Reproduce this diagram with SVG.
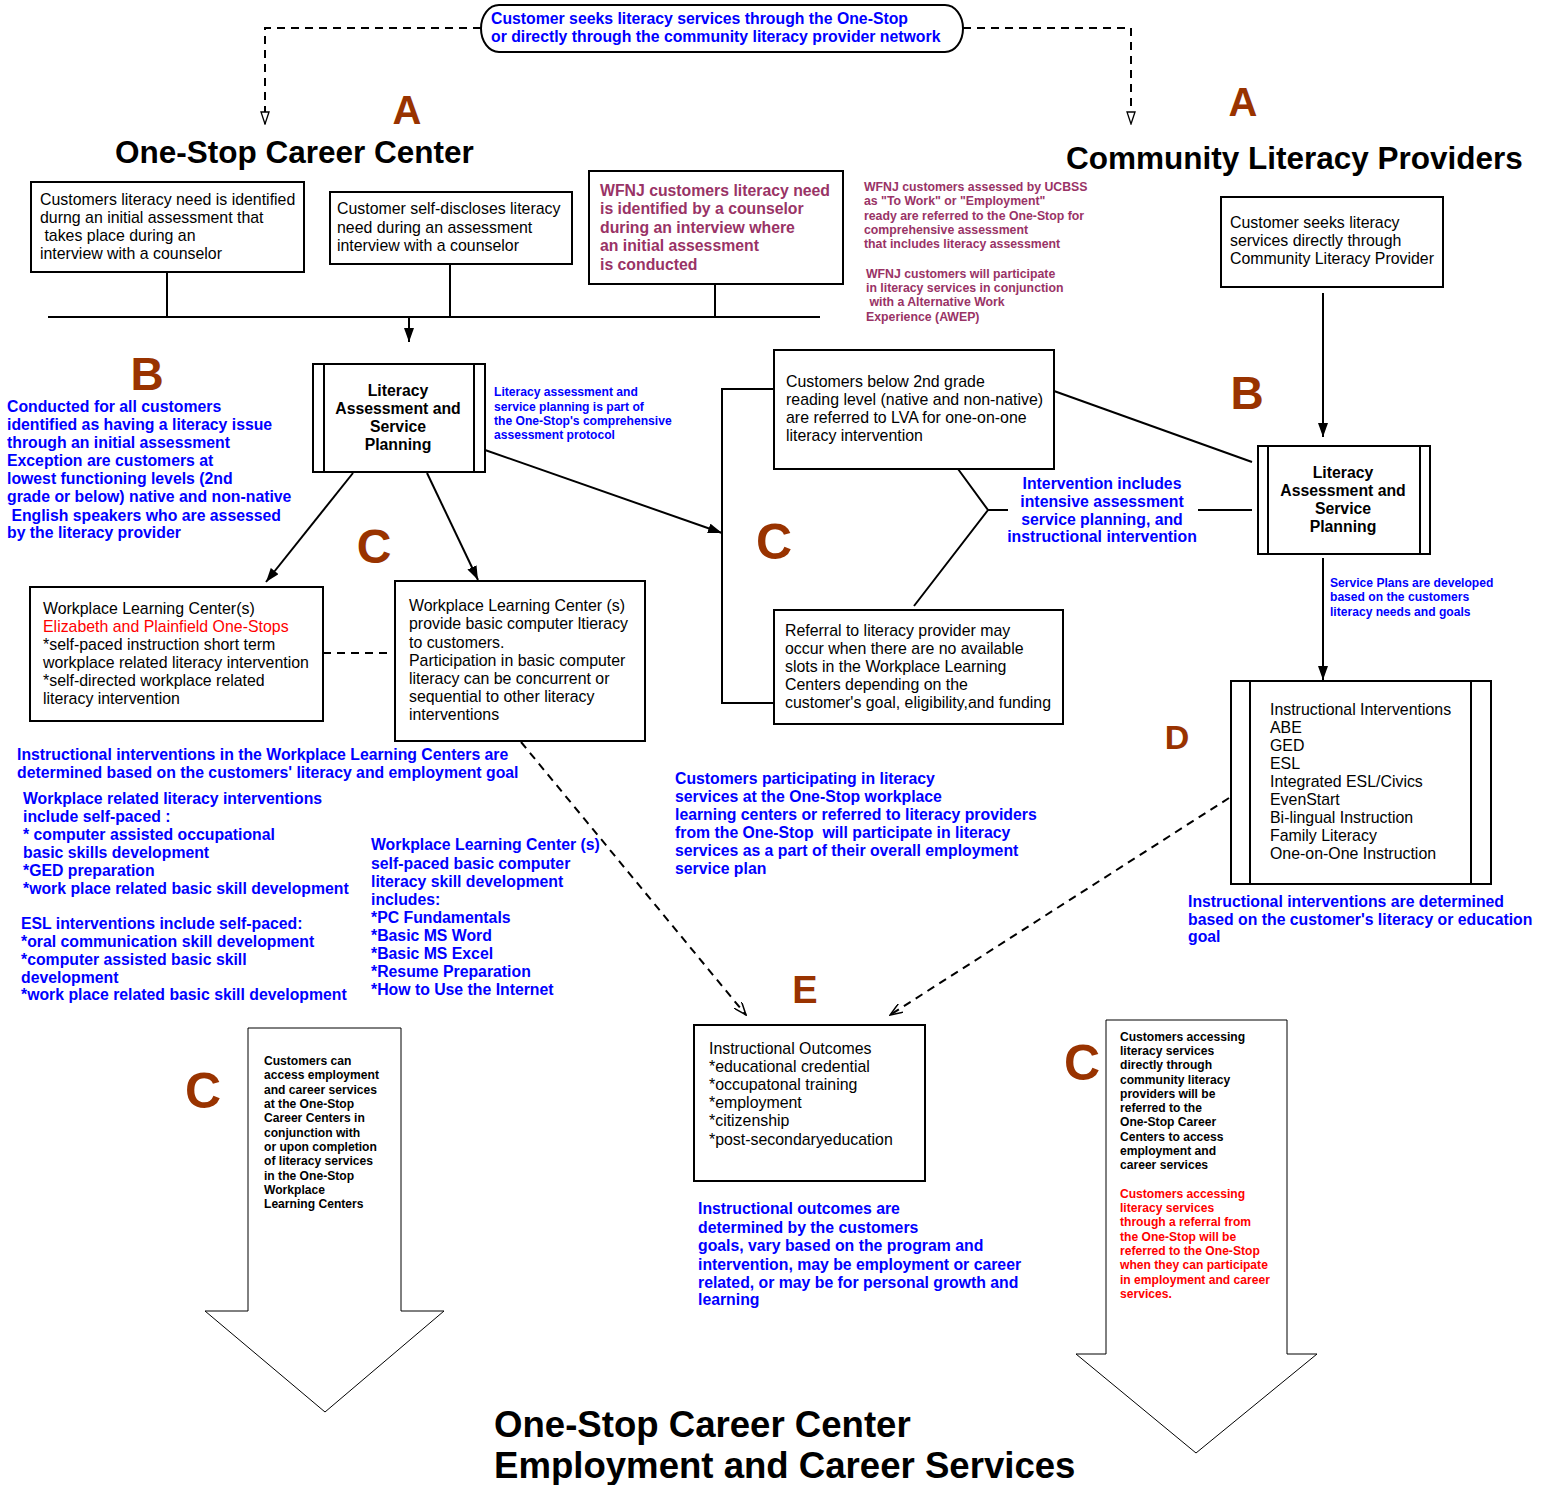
<svg xmlns="http://www.w3.org/2000/svg" width="1550" height="1485" viewBox="0 0 1550 1485">
  <style>
    text { font-family: "Liberation Sans", Arial, Helvetica, sans-serif; white-space: pre; }
    .box { fill: #fff; stroke: #000; stroke-width: 2; }
    .ln { fill: none; stroke: #000; stroke-width: 2; }
    .dash { fill: none; stroke: #000; stroke-width: 2; stroke-dasharray: 8 6; }
    .big { fill: #fff; stroke: #000; stroke-width: 1; }
    .t { font-size: 15.9px; fill: #000; }
    .tb { font-size: 15.8px; font-weight: bold; fill: #000; }
    .bl { font-size: 15.8px; font-weight: bold; fill: #0000ff; }
    .sbl { font-size: 12.1px; font-weight: bold; fill: #0000ff; }
    .pu { font-size: 15.8px; font-weight: bold; fill: #993366; }
    .spu { font-size: 12.3px; font-weight: bold; fill: #993366; }
    .sk { font-size: 12.1px; font-weight: bold; fill: #000; }
    .sr { font-size: 12.1px; font-weight: bold; fill: #ff0000; }
    .red { fill: #ff0000; }
    .h1 { font-size: 31.5px; font-weight: bold; fill: #000; }
    .h2 { font-size: 36.6px; font-weight: bold; fill: #000; }
    .ltr { font-weight: bold; fill: #993300; }
  </style>
  <defs>
    <marker id="ah" viewBox="0 0 14 10" refX="14" refY="5" markerWidth="14" markerHeight="10" orient="auto" markerUnits="userSpaceOnUse">
      <path d="M0,0 L14,5 L0,10 z" fill="#000"/>
    </marker>
    <marker id="oh" viewBox="0 0 14 10" refX="13" refY="5" markerWidth="14" markerHeight="10" orient="auto" markerUnits="userSpaceOnUse">
      <path d="M1,1 L13,5 L1,9 z" fill="#fff" stroke="#000" stroke-width="1.3"/>
    </marker>
    <marker id="vh" viewBox="0 0 14 10" refX="13" refY="5" markerWidth="14" markerHeight="10" orient="auto" markerUnits="userSpaceOnUse">
      <path d="M0,0 L13,5 L0,10" fill="none" stroke="#000" stroke-width="1.5"/>
    </marker>
  </defs>

  <!-- connectors -->
  <g id="connectors">
    <path class="dash" d="M481,28 H265 V124" marker-end="url(#oh)"/>
    <path class="dash" d="M963,28 H1131 V124" marker-end="url(#oh)"/>
    <path class="ln" d="M167,272 V317 M450,264 V317 M715,284 V317 M48,317 H820"/>
    <path class="ln" d="M409,317 V342" marker-end="url(#ah)"/>
    <path class="ln" d="M353,473 L266,582" marker-end="url(#ah)"/>
    <path class="ln" d="M427,473 L478,580" marker-end="url(#ah)"/>
    <path class="ln" d="M485,450 L722,533" marker-end="url(#ah)"/>
    <path class="ln" d="M773,389 H722 V703 H773"/>
    <path class="ln" d="M958,469 L988,510 L914,606 M988,510 H1008 M1198,510 H1252"/>
    <path class="ln" d="M1054,391 L1252,462"/>
    <path class="dash" d="M323,653 H393"/>
    <path class="ln" d="M1323,293 V437" marker-end="url(#ah)"/>
    <path class="ln" d="M1323,558 V680" marker-end="url(#ah)"/>
    <path class="dash" d="M521,742 L746,1015" marker-end="url(#vh)"/>
    <path class="dash" d="M1229,798 L890,1015" marker-end="url(#vh)"/>
  </g>

  <!-- entry point -->
  <g id="entry">
    <path class="box" d="M499,5 H945 A18,23.5 0 0 1 945,52 H499 A18,23.5 0 0 1 499,5 Z"/>
    <text class="bl" x="491" y="24">Customer seeks literacy services through the One-Stop</text>
    <text class="bl" x="491" y="42">or directly through the community literacy provider network</text>
  </g>

  <!-- section headings and stage letters -->
  <g id="headings">
    <text class="h1" x="115" y="163">One-Stop Career Center</text>
    <text class="h1" x="1066" y="169">Community Literacy Providers</text>
    <text class="h2" x="494" y="1437">One-Stop Career Center</text>
    <text class="h2" x="494" y="1478">Employment and Career Services</text>
  </g>
  <g id="letters">
    <text class="ltr" x="407" y="124" font-size="40" text-anchor="middle">A</text>
    <text class="ltr" x="1243" y="116" font-size="40" text-anchor="middle">A</text>
    <text class="ltr" x="147" y="390" font-size="46" text-anchor="middle">B</text>
    <text class="ltr" x="1247" y="409" font-size="46" text-anchor="middle">B</text>
    <text class="ltr" x="374" y="563" font-size="48" text-anchor="middle">C</text>
    <text class="ltr" x="774" y="559" font-size="50" text-anchor="middle">C</text>
    <text class="ltr" x="1177" y="749" font-size="34" text-anchor="middle">D</text>
    <text class="ltr" x="805" y="1003" font-size="38" text-anchor="middle">E</text>
    <text class="ltr" x="203" y="1108" font-size="50" text-anchor="middle">C</text>
    <text class="ltr" x="1082" y="1080" font-size="50" text-anchor="middle">C</text>
  </g>

  <!-- One-Stop intake -->
  <g id="node-identified">
    <rect class="box" x="31" y="182" width="273" height="90"/>
    <text class="t" x="40" y="205">Customers literacy need is identified</text>
    <text class="t" x="40" y="223">durng an initial assessment that</text>
    <text class="t" x="40" y="241"> takes place during an</text>
    <text class="t" x="40" y="259">interview with a counselor</text>
  </g>
  <g id="node-self-disclose">
    <rect class="box" x="330" y="192" width="242" height="72"/>
    <text class="t" x="337" y="214">Customer self-discloses literacy</text>
    <text class="t" x="337" y="233">need during an assessment</text>
    <text class="t" x="337" y="251">interview with a counselor</text>
  </g>
  <g id="node-wfnj">
    <rect class="box" x="589" y="171" width="254" height="113"/>
    <text class="pu" x="600" y="196">WFNJ customers literacy need</text>
    <text class="pu" x="600" y="214">is identified by a counselor</text>
    <text class="pu" x="600" y="233">during an interview where</text>
    <text class="pu" x="600" y="251">an initial assessment</text>
    <text class="pu" x="600" y="270">is conducted</text>
  </g>
  <g id="note-wfnj">
    <text class="spu" x="864" y="191">WFNJ customers assessed by UCBSS</text>
    <text class="spu" x="864" y="205">as "To Work" or "Employment"</text>
    <text class="spu" x="864" y="220">ready are referred to the One-Stop for</text>
    <text class="spu" x="864" y="234">comprehensive assessment</text>
    <text class="spu" x="864" y="248">that includes literacy assessment</text>
    <text class="spu" x="866" y="278">WFNJ customers will participate</text>
    <text class="spu" x="866" y="292">in literacy services in conjunction</text>
    <text class="spu" x="866" y="306"> with a Alternative Work</text>
    <text class="spu" x="866" y="321">Experience (AWEP)</text>
  </g>

  <!-- One-Stop assessment -->
  <g id="node-lasp-onestop">
    <rect class="box" x="313" y="364" width="172" height="108"/>
    <path class="ln" d="M324,364 V472 M474,364 V472"/>
    <text class="tb" x="398" y="396" text-anchor="middle">Literacy</text>
    <text class="tb" x="398" y="414" text-anchor="middle">Assessment and</text>
    <text class="tb" x="398" y="432" text-anchor="middle">Service</text>
    <text class="tb" x="398" y="450" text-anchor="middle">Planning</text>
  </g>
  <g id="note-protocol">
    <text class="sbl" x="494" y="396">Literacy assessment and</text>
    <text class="sbl" x="494" y="411">service planning is part of</text>
    <text class="sbl" x="494" y="425">the One-Stop's comprehensive</text>
    <text class="sbl" x="494" y="439">assessment protocol</text>
  </g>
  <g id="note-conducted">
    <text class="bl" x="7" y="412">Conducted for all customers</text>
    <text class="bl" x="7" y="430">identified as having a literacy issue</text>
    <text class="bl" x="7" y="448">through an initial assessment</text>
    <text class="bl" x="7" y="466">Exception are customers at</text>
    <text class="bl" x="7" y="484">lowest functioning levels (2nd</text>
    <text class="bl" x="7" y="502">grade or below) native and non-native</text>
    <text class="bl" x="7" y="521"> English speakers who are assessed</text>
    <text class="bl" x="7" y="538">by the literacy provider</text>
  </g>

  <!-- Workplace Learning Centers -->
  <g id="node-wlc">
    <rect class="box" x="30" y="587" width="293" height="134"/>
    <text class="t" x="43" y="614">Workplace Learning Center(s)</text>
    <text class="t red" x="43" y="632">Elizabeth and Plainfield One-Stops</text>
    <text class="t" x="43" y="650">*self-paced instruction short term</text>
    <text class="t" x="43" y="668">workplace related literacy intervention</text>
    <text class="t" x="43" y="686">*self-directed workplace related</text>
    <text class="t" x="43" y="704">literacy intervention</text>
  </g>
  <g id="node-wlc-computer">
    <rect class="box" x="395" y="581" width="250" height="160"/>
    <text class="t" x="409" y="611">Workplace Learning Center (s)</text>
    <text class="t" x="409" y="629">provide basic computer ltieracy</text>
    <text class="t" x="409" y="648">to customers.</text>
    <text class="t" x="409" y="666">Participation in basic computer</text>
    <text class="t" x="409" y="684">literacy can be concurrent or</text>
    <text class="t" x="409" y="702">sequential to other literacy</text>
    <text class="t" x="409" y="720">interventions</text>
  </g>
  <g id="note-wlc">
    <text class="bl" x="17" y="760">Instructional interventions in the Workplace Learning Centers are</text>
    <text class="bl" x="17" y="778">determined based on the customers' literacy and employment goal</text>
    <text class="bl" x="23" y="804">Workplace related literacy interventions</text>
    <text class="bl" x="23" y="822">include self-paced :</text>
    <text class="bl" x="23" y="840">* computer assisted occupational</text>
    <text class="bl" x="23" y="858">basic skills development</text>
    <text class="bl" x="23" y="876">*GED preparation</text>
    <text class="bl" x="23" y="894">*work place related basic skill development</text>
    <text class="bl" x="21" y="929">ESL interventions include self-paced:</text>
    <text class="bl" x="21" y="947">*oral communication skill development</text>
    <text class="bl" x="21" y="965">*computer assisted basic skill</text>
    <text class="bl" x="21" y="983">development</text>
    <text class="bl" x="21" y="1000">*work place related basic skill development</text>
  </g>
  <g id="note-wlc-computer">
    <text class="bl" x="371" y="850">Workplace Learning Center (s)</text>
    <text class="bl" x="371" y="869">self-paced basic computer</text>
    <text class="bl" x="371" y="887">literacy skill development</text>
    <text class="bl" x="371" y="905">includes:</text>
    <text class="bl" x="371" y="923">*PC Fundamentals</text>
    <text class="bl" x="371" y="941">*Basic MS Word</text>
    <text class="bl" x="371" y="959">*Basic MS Excel</text>
    <text class="bl" x="371" y="977">*Resume Preparation</text>
    <text class="bl" x="371" y="995">*How to Use the Internet</text>
  </g>

  <!-- Referrals to literacy providers -->
  <g id="node-lva">
    <rect class="box" x="774" y="350" width="280" height="119"/>
    <text class="t" x="786" y="387">Customers below 2nd grade</text>
    <text class="t" x="786" y="405">reading level (native and non-native)</text>
    <text class="t" x="786" y="423">are referred to LVA for one-on-one</text>
    <text class="t" x="786" y="441">literacy intervention</text>
  </g>
  <g id="node-referral">
    <rect class="box" x="774" y="610" width="289" height="114"/>
    <text class="t" x="785" y="636">Referral to literacy provider may</text>
    <text class="t" x="785" y="654">occur when there are no available</text>
    <text class="t" x="785" y="672">slots in the Workplace Learning</text>
    <text class="t" x="785" y="690">Centers depending on the</text>
    <text class="t" x="785" y="708">customer's goal, eligibility,and funding</text>
  </g>
  <g id="note-intervention">
    <text class="bl" x="1102" y="489" text-anchor="middle">Intervention includes</text>
    <text class="bl" x="1102" y="507" text-anchor="middle">intensive assessment</text>
    <text class="bl" x="1102" y="525" text-anchor="middle">service planning, and</text>
    <text class="bl" x="1102" y="542" text-anchor="middle">instructional intervention</text>
  </g>
  <g id="note-participating">
    <text class="bl" x="675" y="784">Customers participating in literacy</text>
    <text class="bl" x="675" y="802">services at the One-Stop workplace</text>
    <text class="bl" x="675" y="820">learning centers or referred to literacy providers</text>
    <text class="bl" x="675" y="838">from the One-Stop  will participate in literacy</text>
    <text class="bl" x="675" y="856">services as a part of their overall employment</text>
    <text class="bl" x="675" y="874">service plan</text>
  </g>

  <!-- Community literacy providers -->
  <g id="node-direct">
    <rect class="box" x="1221" y="197" width="222" height="90"/>
    <text class="t" x="1230" y="228">Customer seeks literacy</text>
    <text class="t" x="1230" y="246">services directly through</text>
    <text class="t" x="1230" y="264">Community Literacy Provider</text>
  </g>
  <g id="node-lasp-provider">
    <rect class="box" x="1258" y="446" width="172" height="108"/>
    <path class="ln" d="M1268,446 V554 M1420,446 V554"/>
    <text class="tb" x="1343" y="478" text-anchor="middle">Literacy</text>
    <text class="tb" x="1343" y="496" text-anchor="middle">Assessment and</text>
    <text class="tb" x="1343" y="514" text-anchor="middle">Service</text>
    <text class="tb" x="1343" y="532" text-anchor="middle">Planning</text>
  </g>
  <g id="note-plans">
    <text class="sbl" x="1330" y="587">Service Plans are developed</text>
    <text class="sbl" x="1330" y="601">based on the customers</text>
    <text class="sbl" x="1330" y="616">literacy needs and goals</text>
  </g>
  <g id="node-interventions">
    <rect class="box" x="1231" y="681" width="260" height="203"/>
    <path class="ln" d="M1250,681 V884 M1471,681 V884"/>
    <text class="t" x="1270" y="715">Instructional Interventions</text>
    <text class="t" x="1270" y="733">ABE</text>
    <text class="t" x="1270" y="751">GED</text>
    <text class="t" x="1270" y="769">ESL</text>
    <text class="t" x="1270" y="787">Integrated ESL/Civics</text>
    <text class="t" x="1270" y="805">EvenStart</text>
    <text class="t" x="1270" y="823">Bi-lingual Instruction</text>
    <text class="t" x="1270" y="841">Family Literacy</text>
    <text class="t" x="1270" y="859">One-on-One Instruction</text>
  </g>
  <g id="note-interventions">
    <text class="bl" x="1188" y="907">Instructional interventions are determined</text>
    <text class="bl" x="1188" y="925">based on the customer's literacy or education</text>
    <text class="bl" x="1188" y="942">goal</text>
  </g>

  <!-- Outcomes -->
  <g id="node-outcomes">
    <rect class="box" x="694" y="1025" width="231" height="156"/>
    <text class="t" x="709" y="1054">Instructional Outcomes</text>
    <text class="t" x="709" y="1072">*educational credential</text>
    <text class="t" x="709" y="1090">*occupatonal training</text>
    <text class="t" x="709" y="1108">*employment</text>
    <text class="t" x="709" y="1126">*citizenship</text>
    <text class="t" x="709" y="1145">*post-secondaryeducation</text>
  </g>
  <g id="note-outcomes">
    <text class="bl" x="698" y="1214">Instructional outcomes are</text>
    <text class="bl" x="698" y="1233">determined by the customers</text>
    <text class="bl" x="698" y="1251">goals, vary based on the program and</text>
    <text class="bl" x="698" y="1270">intervention, may be employment or career</text>
    <text class="bl" x="698" y="1288">related, or may be for personal growth and</text>
    <text class="bl" x="698" y="1305">learning</text>
  </g>

  <!-- Transitions to employment and career services -->
  <g id="node-arrow-onestop">
    <path class="big" d="M248,1028 H401 V1311 H444 L325,1412 L205,1311 H248 Z"/>
    <text class="sk" x="264" y="1065">Customers can</text>
    <text class="sk" x="264" y="1079">access employment</text>
    <text class="sk" x="264" y="1094">and career services</text>
    <text class="sk" x="264" y="1108">at the One-Stop</text>
    <text class="sk" x="264" y="1122">Career Centers in</text>
    <text class="sk" x="264" y="1137">conjunction with</text>
    <text class="sk" x="264" y="1151">or upon completion</text>
    <text class="sk" x="264" y="1165">of literacy services</text>
    <text class="sk" x="264" y="1180">in the One-Stop</text>
    <text class="sk" x="264" y="1194">Workplace</text>
    <text class="sk" x="264" y="1208">Learning Centers</text>
  </g>
  <g id="node-arrow-provider">
    <path class="big" d="M1106,1020 H1287 V1354 H1317 L1196,1453 L1076,1354 H1106 Z"/>
    <text class="sk" x="1120" y="1041">Customers accessing</text>
    <text class="sk" x="1120" y="1055">literacy services</text>
    <text class="sk" x="1120" y="1069">directly through</text>
    <text class="sk" x="1120" y="1084">community literacy</text>
    <text class="sk" x="1120" y="1098">providers will be</text>
    <text class="sk" x="1120" y="1112">referred to the</text>
    <text class="sk" x="1120" y="1126">One-Stop Career</text>
    <text class="sk" x="1120" y="1141">Centers to access</text>
    <text class="sk" x="1120" y="1155">employment and</text>
    <text class="sk" x="1120" y="1169">career services</text>
    <text class="sr" x="1120" y="1198">Customers accessing</text>
    <text class="sr" x="1120" y="1212">literacy services</text>
    <text class="sr" x="1120" y="1226">through a referral from</text>
    <text class="sr" x="1120" y="1241">the One-Stop will be</text>
    <text class="sr" x="1120" y="1255">referred to the One-Stop</text>
    <text class="sr" x="1120" y="1269">when they can participate</text>
    <text class="sr" x="1120" y="1284">in employment and career</text>
    <text class="sr" x="1120" y="1298">services.</text>
  </g>
</svg>
